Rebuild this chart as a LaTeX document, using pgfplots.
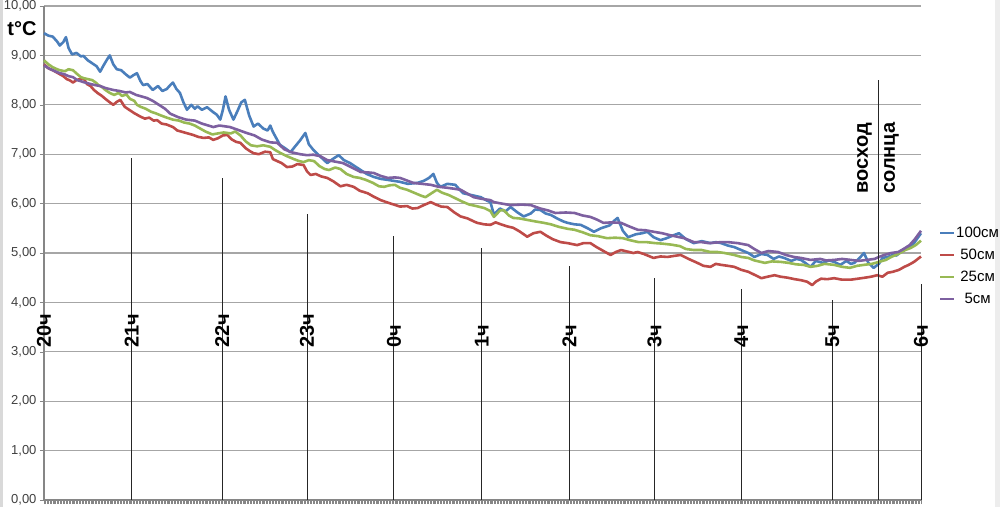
\documentclass[border=0pt]{standalone}
\usepackage{pgfplots}
\pgfplotsset{compat=1.18}
\usepackage{fontspec}
\setmainfont{Liberation Sans}
\definecolor{cA}{HTML}{4A7EBB}
\definecolor{cB}{HTML}{BE4B48}
\definecolor{cC}{HTML}{98B954}
\definecolor{cD}{HTML}{7D60A0}
\definecolor{gridc}{HTML}{A6A6A6}
\definecolor{axc}{HTML}{868686}
\begin{document}
\begin{tikzpicture}[hl/.style={rotate=90, anchor=west, inner sep=0pt, font=\fontsize{20}{22}\selectfont\bfseries}]
\useasboundingbox (0,0) rectangle (1000pt,507pt);
\fill[black!7] (995pt,0) rectangle (1000pt,507pt);
\fill[black!15] (0,0) rectangle (2.5pt,507pt);
\begin{axis}[
  at={(44pt,7pt)}, anchor=south west,
  width=877pt, height=494pt, scale only axis,
  xmin=0, xmax=10, ymin=0, ymax=10,
  axis line style={draw=none},
  xtick pos=bottom, ytick pos=left,
  ytick={0,1,...,10},
  ymajorgrids, major grid style={gridc, line width=1.2pt},
  xtick={0,1,...,10}, xticklabels={},
  minor x tick num=59,
  tick align=outside,
  major tick length=4pt, minor tick length=4pt,
  every tick/.style={axc, line width=0.5pt},
  yticklabel style={font=\fontsize{13}{15}\selectfont, text=black!75,
    /pgf/number format/.cd, fixed, fixed zerofill, precision=2, use comma, assume math mode=true},
  legend style={at={(axis description cs:1.0205,0.5545)}, anchor=north west, draw=none, fill=none,
    font=\fontsize{15}{17}\selectfont, row sep=8pt, inner sep=0pt, nodes={inner sep=1pt}},
  legend cell align=center,
  legend image code/.code={\draw[#1, line width=2pt] (0pt,0pt) -- (14pt,0pt);},
  clip=false,
  hr/.style={black!85, line width=1pt, forget plot},
]
\draw[axc, line width=1.2pt] (rel axis cs:0,1) -- (rel axis cs:0,0) -- (rel axis cs:1,0);
\addplot[cA, line width=2.6pt, line join=round] coordinates {
(0.00,9.45)(0.05,9.40)(0.10,9.38)(0.15,9.28)(0.18,9.20)(0.22,9.27)(0.25,9.37)(0.28,9.15)(0.32,9.02)(0.37,9.05)
(0.42,8.98)(0.45,8.99)(0.50,8.90)(0.55,8.84)(0.60,8.78)(0.64,8.67)(0.68,8.80)(0.72,8.92)(0.75,9.00)(0.79,8.82)
(0.83,8.72)(0.88,8.70)(0.93,8.62)(0.98,8.55)(1.02,8.60)(1.06,8.64)(1.10,8.48)(1.13,8.40)(1.18,8.42)(1.24,8.30)
(1.30,8.38)(1.35,8.28)(1.40,8.32)(1.44,8.40)(1.47,8.45)(1.51,8.32)(1.55,8.24)(1.59,8.05)(1.63,7.90)(1.68,8.00)
(1.72,7.92)(1.75,7.97)(1.80,7.90)(1.86,7.95)(1.93,7.85)(1.97,7.80)(2.01,7.70)(2.04,7.90)(2.07,8.17)(2.11,7.90)
(2.16,7.70)(2.20,7.85)(2.25,8.05)(2.29,8.10)(2.34,7.78)(2.39,7.56)(2.44,7.62)(2.50,7.52)(2.55,7.48)(2.58,7.58)
(2.61,7.45)(2.65,7.32)(2.69,7.19)(2.75,7.12)(2.81,7.04)(2.86,7.15)(2.92,7.28)(2.98,7.43)(3.02,7.20)(3.07,7.09)
(3.12,7.00)(3.17,6.92)(3.23,6.82)(3.29,6.90)(3.36,6.98)(3.42,6.88)(3.49,6.82)(3.55,6.75)(3.61,6.68)(3.68,6.60)
(3.76,6.54)(3.84,6.50)(3.92,6.48)(3.99,6.46)(4.06,6.44)(4.15,6.40)(4.26,6.42)(4.33,6.46)(4.39,6.52)(4.44,6.60)
(4.48,6.42)(4.52,6.34)(4.60,6.40)(4.69,6.38)(4.74,6.28)(4.78,6.21)(4.88,6.17)(4.98,6.13)(5.05,6.06)(5.09,6.03)
(5.13,5.78)(5.20,5.90)(5.26,5.84)(5.32,5.93)(5.40,5.82)(5.47,5.74)(5.55,5.80)(5.60,5.88)(5.66,5.87)(5.72,5.80)
(5.78,5.77)(5.85,5.70)(5.92,5.64)(5.97,5.61)(6.05,5.58)(6.12,5.57)(6.20,5.50)(6.27,5.43)(6.35,5.50)(6.45,5.56)
(6.50,5.65)(6.54,5.71)(6.60,5.45)(6.66,5.32)(6.75,5.38)(6.82,5.40)(6.88,5.43)(6.95,5.32)(7.03,5.26)(7.10,5.30)
(7.18,5.36)(7.24,5.40)(7.32,5.28)(7.41,5.20)(7.50,5.24)(7.60,5.20)(7.66,5.22)(7.72,5.20)(7.80,5.15)(7.87,5.12)
(7.95,5.06)(8.03,5.00)(8.10,4.92)(8.18,4.98)(8.25,4.96)(8.32,4.88)(8.38,4.93)(8.44,4.90)(8.52,4.84)(8.58,4.88)
(8.63,4.86)(8.68,4.80)(8.74,4.72)(8.80,4.84)(8.88,4.80)(8.95,4.85)(9.01,4.82)(9.08,4.76)(9.15,4.84)(9.20,4.78)
(9.24,4.80)(9.30,4.90)(9.35,5.00)(9.40,4.80)(9.46,4.70)(9.52,4.78)(9.56,4.90)(9.62,4.92)(9.68,4.96)(9.72,4.95)
(9.77,5.02)(9.82,5.08)(9.87,5.12)(9.92,5.20)(9.96,5.30)(10.00,5.40)
};
\addlegendentry{100см}
\addplot[cB, line width=2.6pt, line join=round] coordinates {
(0.00,8.82)(0.05,8.74)(0.10,8.70)(0.14,8.66)(0.18,8.62)(0.22,8.58)(0.26,8.52)(0.30,8.49)(0.33,8.45)(0.37,8.50)
(0.41,8.52)(0.45,8.54)(0.49,8.42)(0.53,8.38)(0.57,8.30)(0.61,8.24)(0.66,8.18)(0.70,8.12)(0.75,8.05)(0.79,8.00)
(0.83,8.06)(0.87,8.10)(0.92,7.96)(0.97,7.90)(1.03,7.83)(1.10,7.76)(1.15,7.72)(1.20,7.74)(1.25,7.68)(1.29,7.69)
(1.34,7.62)(1.40,7.60)(1.47,7.55)(1.52,7.48)(1.58,7.45)(1.64,7.42)(1.70,7.39)(1.76,7.35)(1.82,7.33)(1.88,7.34)
(1.93,7.29)(1.98,7.32)(2.04,7.38)(2.09,7.39)(2.14,7.30)(2.19,7.25)(2.24,7.23)(2.30,7.12)(2.35,7.06)(2.39,7.02)
(2.45,7.00)(2.52,7.05)(2.58,7.04)(2.61,6.90)(2.66,6.86)(2.71,6.82)(2.77,6.74)(2.83,6.75)(2.89,6.80)(2.96,6.78)
(3.00,6.65)(3.04,6.58)(3.10,6.60)(3.16,6.55)(3.23,6.52)(3.30,6.45)(3.38,6.35)(3.45,6.38)(3.53,6.34)(3.60,6.26)
(3.69,6.21)(3.76,6.14)(3.84,6.07)(3.92,6.02)(3.99,5.98)(4.06,5.94)(4.14,5.95)(4.20,5.90)(4.26,5.91)(4.33,5.97)
(4.41,6.03)(4.47,5.98)(4.53,5.94)(4.60,5.93)(4.68,5.82)(4.75,5.74)(4.83,5.70)(4.90,5.64)(4.94,5.61)(5.02,5.58)
(5.09,5.57)(5.15,5.62)(5.21,5.58)(5.28,5.54)(5.35,5.51)(5.42,5.44)(5.51,5.33)(5.58,5.40)(5.66,5.43)(5.73,5.35)
(5.80,5.28)(5.89,5.22)(5.97,5.20)(6.08,5.16)(6.15,5.20)(6.23,5.20)(6.30,5.12)(6.38,5.04)(6.46,4.96)(6.52,5.02)
(6.58,5.06)(6.65,5.03)(6.72,5.00)(6.77,5.02)(6.84,4.98)(6.95,4.90)(7.03,4.93)(7.11,4.92)(7.18,4.94)(7.26,4.96)
(7.35,4.88)(7.45,4.80)(7.52,4.74)(7.60,4.72)(7.66,4.78)(7.72,4.76)(7.80,4.74)(7.87,4.72)(7.95,4.66)(8.03,4.62)
(8.10,4.56)(8.18,4.49)(8.25,4.52)(8.33,4.55)(8.40,4.52)(8.48,4.50)(8.56,4.47)(8.63,4.45)(8.70,4.42)(8.76,4.35)
(8.80,4.42)(8.86,4.48)(8.93,4.47)(9.01,4.49)(9.10,4.46)(9.20,4.46)(9.28,4.48)(9.36,4.50)(9.43,4.52)(9.50,4.55)
(9.56,4.52)(9.62,4.60)(9.68,4.62)(9.75,4.66)(9.81,4.72)(9.86,4.76)(9.92,4.82)(10.00,4.93)
};
\addlegendentry{50см}
\addplot[cC, line width=2.6pt, line join=round] coordinates {
(0.00,8.90)(0.05,8.82)(0.10,8.76)(0.15,8.72)(0.18,8.70)(0.24,8.68)(0.28,8.72)(0.33,8.70)(0.38,8.62)(0.42,8.56)
(0.45,8.54)(0.50,8.52)(0.55,8.50)(0.59,8.45)(0.62,8.40)(0.66,8.36)(0.70,8.30)(0.75,8.24)(0.80,8.20)(0.85,8.24)
(0.89,8.18)(0.94,8.21)(0.98,8.12)(1.03,8.08)(1.06,8.00)(1.10,7.96)(1.16,7.92)(1.22,7.86)(1.27,7.83)(1.34,7.78)
(1.40,7.74)(1.47,7.70)(1.54,7.68)(1.60,7.64)(1.66,7.62)(1.72,7.58)(1.78,7.52)(1.84,7.46)(1.92,7.40)(1.98,7.42)
(2.05,7.44)(2.13,7.42)(2.18,7.46)(2.24,7.38)(2.30,7.26)(2.36,7.18)(2.43,7.16)(2.50,7.18)(2.58,7.15)(2.64,7.08)
(2.70,7.02)(2.77,6.96)(2.85,6.90)(2.91,6.86)(2.96,6.84)(3.02,6.88)(3.08,6.86)(3.14,6.76)(3.20,6.70)(3.25,6.68)
(3.32,6.73)(3.38,6.70)(3.45,6.60)(3.53,6.54)(3.60,6.52)(3.67,6.48)(3.75,6.42)(3.82,6.35)(3.88,6.34)(3.94,6.37)
(4.00,6.38)(4.06,6.32)(4.14,6.28)(4.22,6.22)(4.30,6.16)(4.35,6.13)(4.41,6.20)(4.48,6.28)(4.54,6.22)(4.62,6.17)
(4.70,6.10)(4.77,6.04)(4.85,5.98)(4.93,5.95)(5.02,5.91)(5.09,5.85)(5.13,5.73)(5.20,5.86)(5.24,5.87)(5.30,5.76)
(5.35,5.71)(5.42,5.70)(5.51,5.67)(5.60,5.64)(5.70,5.61)(5.78,5.58)(5.87,5.53)(5.97,5.49)(6.05,5.47)(6.14,5.42)
(6.23,5.36)(6.32,5.34)(6.42,5.30)(6.51,5.31)(6.60,5.30)(6.68,5.26)(6.78,5.22)(6.87,5.22)(6.97,5.20)(7.05,5.19)
(7.15,5.17)(7.25,5.14)(7.32,5.08)(7.41,5.06)(7.50,5.06)(7.60,5.02)(7.68,5.02)(7.76,5.00)(7.87,4.96)(7.95,4.92)
(8.03,4.90)(8.10,4.85)(8.22,4.80)(8.30,4.83)(8.40,4.82)(8.49,4.80)(8.58,4.77)(8.66,4.76)(8.74,4.72)(8.82,4.74)
(8.90,4.78)(9.01,4.76)(9.10,4.72)(9.19,4.70)(9.27,4.74)(9.35,4.76)(9.44,4.78)(9.52,4.82)(9.60,4.86)(9.66,4.92)
(9.74,4.98)(9.82,5.06)(9.88,5.10)(9.94,5.16)(10.00,5.25)
};
\addlegendentry{25см}
\addplot[cD, line width=2.6pt, line join=round] coordinates {
(0.00,8.80)(0.05,8.74)(0.10,8.70)(0.15,8.66)(0.18,8.64)(0.23,8.62)(0.28,8.58)(0.33,8.56)(0.38,8.50)(0.45,8.46)
(0.51,8.43)(0.58,8.40)(0.64,8.38)(0.70,8.34)(0.79,8.30)(0.86,8.28)(0.93,8.25)(0.98,8.26)(1.05,8.20)(1.17,8.14)
(1.24,8.08)(1.31,8.00)(1.38,7.92)(1.44,7.82)(1.53,7.75)(1.62,7.70)(1.72,7.68)(1.80,7.62)(1.93,7.55)(2.00,7.58)
(2.12,7.55)(2.20,7.50)(2.31,7.43)(2.40,7.38)(2.48,7.30)(2.58,7.24)(2.66,7.23)(2.74,7.10)(2.82,7.04)(2.92,7.00)
(3.00,6.98)(3.07,6.99)(3.15,6.96)(3.23,6.88)(3.32,6.85)(3.41,6.82)(3.50,6.74)(3.61,6.64)(3.70,6.63)(3.76,6.62)
(3.84,6.56)(3.92,6.52)(4.00,6.53)(4.06,6.52)(4.15,6.46)(4.21,6.42)(4.31,6.40)(4.41,6.38)(4.50,6.34)(4.60,6.32)
(4.68,6.30)(4.75,6.28)(4.83,6.20)(4.90,6.13)(4.98,6.10)(5.09,6.07)(5.13,6.03)(5.22,6.00)(5.32,5.97)(5.45,5.98)
(5.55,5.97)(5.66,5.90)(5.75,5.86)(5.83,5.81)(5.95,5.82)(6.05,5.81)(6.14,5.76)(6.23,5.73)(6.30,5.68)(6.38,5.61)
(6.47,5.62)(6.58,5.61)(6.67,5.54)(6.77,5.47)(6.86,5.46)(6.95,5.43)(7.05,5.40)(7.14,5.36)(7.22,5.33)(7.30,5.30)
(7.41,5.22)(7.50,5.22)(7.58,5.20)(7.72,5.22)(7.80,5.22)(7.91,5.20)(8.03,5.16)(8.10,5.08)(8.18,5.00)(8.26,5.04)
(8.37,5.02)(8.46,4.96)(8.55,4.92)(8.63,4.90)(8.74,4.86)(8.85,4.88)(8.92,4.85)(9.01,4.86)(9.10,4.88)(9.20,4.86)
(9.29,4.84)(9.38,4.86)(9.47,4.88)(9.52,4.92)(9.58,4.96)(9.66,5.00)(9.74,5.02)(9.80,5.08)(9.87,5.16)(9.93,5.28)
(10.00,5.45)
};
\addlegendentry{5см}
% hour marker lines
\addplot[hr] coordinates {(1.00,0)(1.00,6.92)};
\addplot[hr] coordinates {(2.03,0)(2.03,6.52)};
\addplot[hr] coordinates {(3.00,0)(3.00,5.79)};
\addplot[hr] coordinates {(3.99,0)(3.99,5.34)};
\addplot[hr] coordinates {(4.99,0)(4.99,5.10)};
\addplot[hr] coordinates {(5.99,0)(5.99,4.74)};
\addplot[hr] coordinates {(6.96,0)(6.96,4.49)};
\addplot[hr] coordinates {(7.95,0)(7.95,4.27)};
\addplot[hr] coordinates {(8.99,0)(8.99,4.05)};
\addplot[hr] coordinates {(9.51,0)(9.51,8.50)};
\addplot[hr] coordinates {(10.00,0)(10.00,4.37)};
\node[hl] at (axis cs:0,3.08) {20ч};
\node[hl] at (axis cs:1.00,3.08) {21ч};
\node[hl] at (axis cs:2.03,3.08) {22ч};
\node[hl] at (axis cs:3.00,3.08) {23ч};
\node[hl] at (axis cs:3.99,3.08) {0ч};
\node[hl] at (axis cs:4.99,3.08) {1ч};
\node[hl] at (axis cs:5.99,3.08) {2ч};
\node[hl] at (axis cs:6.96,3.08) {3ч};
\node[hl] at (axis cs:7.95,3.08) {4ч};
\node[hl] at (axis cs:8.99,3.08) {5ч};
\node[hl] at (axis cs:10.00,3.08) {6ч};
\node[rotate=90, align=center, inner sep=0pt, font=\fontsize{20}{27}\selectfont\bfseries] at (axis cs:9.51,6.92) {восход\\солнца};
\end{axis}
\node[font=\fontsize{20}{22}\selectfont\bfseries, inner sep=0pt] at (22pt,478pt) {t°C};
\end{tikzpicture}
\end{document}
